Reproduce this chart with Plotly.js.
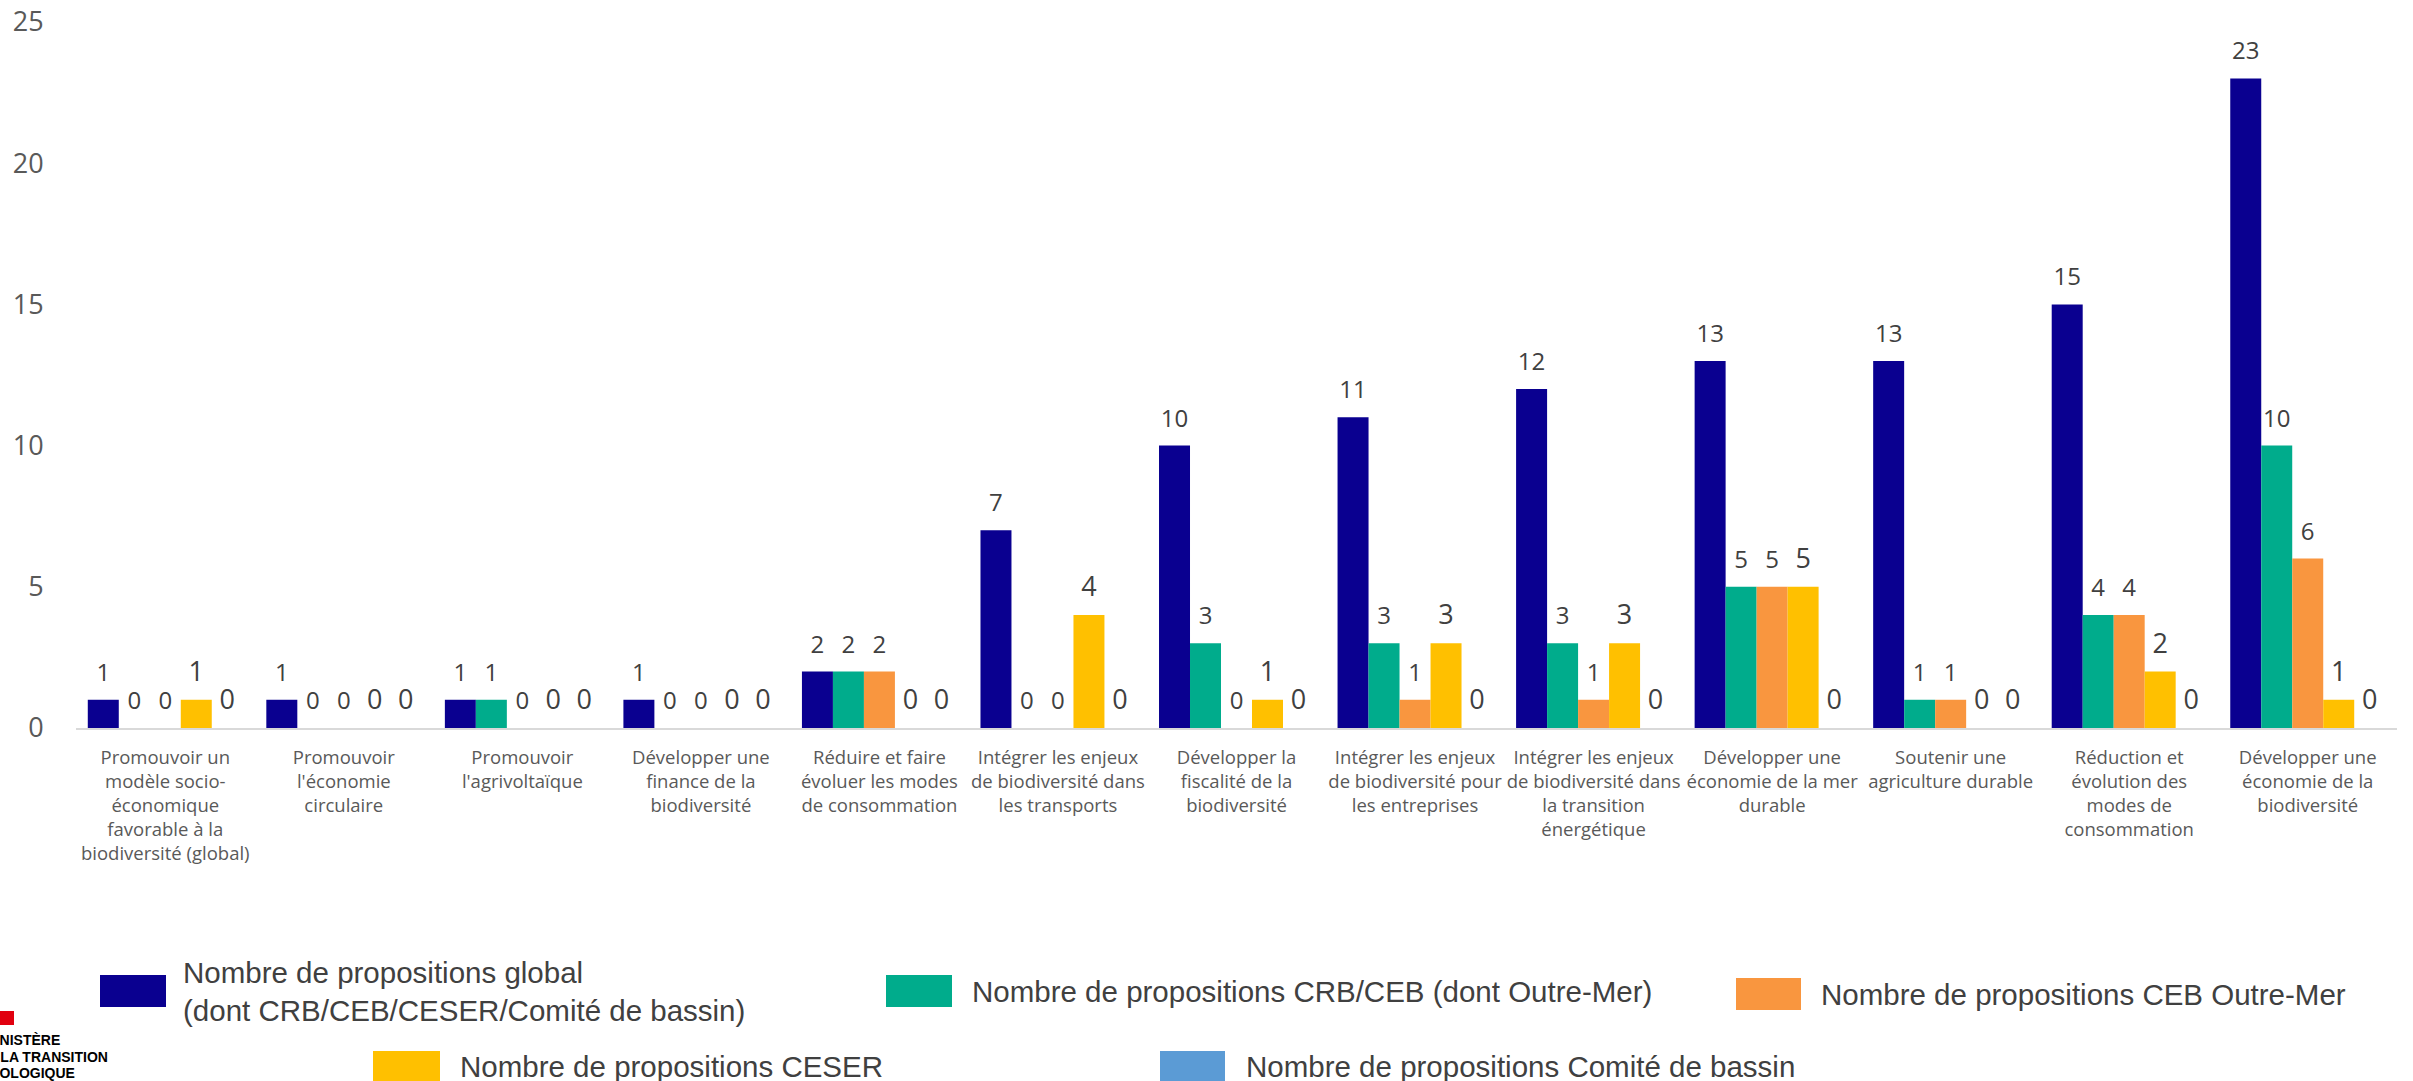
<!DOCTYPE html>
<html>
<head>
<meta charset="utf-8">
<script src="https://cdn.plot.ly/plotly-3.0.1.min.js"></script>
<style>
  html, body { margin: 0; padding: 0; background: #ffffff; }
  #chart { width: 2413px; height: 1081px; }
</style>
</head>
<body>
<div id="chart"></div>
<script>
// ---- DATA ----
const categories = [
  "Promouvoir un<br>modèle socio-<br>économique<br>favorable à la<br>biodiversité (global)",
  "Promouvoir<br>l'économie<br>circulaire",
  "Promouvoir<br>l'agrivoltaïque",
  "Développer une<br>finance de la<br>biodiversité",
  "Réduire et faire<br>évoluer les modes<br>de consommation",
  "Intégrer les enjeux<br>de biodiversité dans<br>les transports",
  "Développer la<br>fiscalité de la<br>biodiversité",
  "Intégrer les enjeux<br>de biodiversité pour<br>les entreprises",
  "Intégrer les enjeux<br>de biodiversité dans<br>la transition<br>énergétique",
  "Développer une<br>économie de la mer<br>durable",
  "Soutenir une<br>agriculture durable",
  "Réduction et<br>évolution des<br>modes de<br>consommation",
  "Développer une<br>économie de la<br>biodiversité"
];

const seriesNames = [
  "Nombre de propositions global<br>(dont CRB/CEB/CESER/Comité de bassin)",
  "Nombre de propositions CRB/CEB (dont Outre-Mer)",
  "Nombre de propositions CEB Outre-Mer",
  "Nombre de propositions CESER",
  "Nombre de propositions Comité de bassin"
];

const propGlobal      = [1, 1, 1, 1, 2, 7, 10, 11, 12, 13, 13, 15, 23];
const propCrbCeb      = [0, 0, 1, 0, 2, 0, 3, 3, 3, 5, 1, 4, 10];
const propCebOutreMer = [0, 0, 0, 0, 2, 0, 0, 1, 1, 5, 1, 4, 6];
const propCeser       = [1, 0, 0, 0, 0, 4, 1, 3, 3, 5, 0, 2, 1];
const propComite      = [0, 0, 0, 0, 0, 0, 0, 0, 0, 0, 0, 0, 0];

const yTickVals = [0, 5, 10, 15, 20, 25];

// ---- STYLE ----
const seriesValues = [propGlobal, propCrbCeb, propCebOutreMer, propCeser, propComite];
const colors = ["#0A0090", "#00AC8C", "#F9963F", "#FFC000", "#5B9BD5"];
const labelSizes = [24, 24, 24, 27, 27];

const W = 2413, H = 1081;
const M = { l: 76, r: 16, t: 22, b: 353 };
const PW = W - M.l - M.r, PH = H - M.t - M.b;
const px2x = p => (p - M.l) / PW;
const px2y = p => (H - M.b - p) / PH;

// the small second line (non-breaking space at 10px) lifts each label above its bar
const traces = seriesValues.map((vals, i) => ({
  type: "bar",
  name: seriesNames[i],
  x: categories,
  y: vals,
  marker: { color: colors[i], line: { width: 0 } },
  texttemplate: "<span style='font-size:" + labelSizes[i] + "px'>%{y}</span><br>\u00A0",
  textposition: "outside",
  constraintext: "none",
  cliponaxis: false,
  textfont: { family: "Open Sans, sans-serif", size: 10, color: "#404040" },
  showlegend: false,
  hoverinfo: "x+y+name"
}));

// custom legend (large swatches + labels, laid out as in the reference)
const legendBoxes = [
  { s: [100, 975, 166, 1007], tx: 182, ty: 991 },
  { s: [886, 975, 952, 1007], tx: 971, ty: 991 },
  { s: [1736, 978, 1801, 1010], tx: 1820, ty: 994 },
  { s: [373, 1051, 440, 1083], tx: 459, ty: 1066 },
  { s: [1160, 1051, 1225, 1083], tx: 1245, ty: 1066 }
];

const shapes = legendBoxes.map((b, i) => ({
  type: "rect", xref: "paper", yref: "paper",
  x0: px2x(b.s[0]), x1: px2x(b.s[2]), y0: px2y(b.s[3]), y1: px2y(b.s[1]),
  fillcolor: colors[i], line: { width: 0 }
}));
// logo red block (partially cropped at the left edge)
shapes.push({
  type: "rect", xref: "paper", yref: "paper",
  x0: px2x(-10), x1: px2x(14), y0: px2y(1025), y1: px2y(1011),
  fillcolor: "#E1000F", line: { width: 0 }
});

const annotations = legendBoxes.map((b, i) => ({
  xref: "paper", yref: "paper",
  x: px2x(b.tx), y: px2y(b.ty),
  xanchor: "left", yanchor: "middle", align: "left",
  text: seriesNames[i], showarrow: false, borderpad: 0,
  font: { family: "Liberation Sans, Arial, sans-serif", size: 29.5, color: "#404040" }
}));

// cropped ministry logo text
const logoLines = [
  { t: "MINISTÈRE", xr: 61, yc: 1040 },
  { t: "DE LA TRANSITION", xr: 109, yc: 1057 },
  { t: "ÉCOLOGIQUE", xr: 76, yc: 1073 }
];
logoLines.forEach(l => annotations.push({
  xref: "paper", yref: "paper", x: px2x(l.xr), y: px2y(l.yc),
  xanchor: "right", yanchor: "middle", text: "<b>" + l.t + "</b>",
  showarrow: false, borderpad: 0,
  font: { family: "Liberation Sans, Arial, sans-serif", size: 14, color: "#000000" }
}));

const layout = {
  width: W, height: H,
  margin: M,
  paper_bgcolor: "#ffffff", plot_bgcolor: "#ffffff",
  barmode: "group",
  bargap: 0.132,
  bargroupgap: 0,
  showlegend: false,
  xaxis: {
    type: "category",
    showgrid: false, zeroline: false,
    showline: true, linecolor: "#D9D9D9", linewidth: 2,
    ticks: "outside", ticklen: 12, tickcolor: "rgba(0,0,0,0)",
    tickangle: 0,
    tickfont: { family: "Open Sans, sans-serif", size: 18.5, color: "#595959" },
    automargin: false
  },
  yaxis: {
    range: [0, 25],
    tickvals: yTickVals,
    ticktext: yTickVals.map(String),
    showgrid: false, zeroline: false, showline: false,
    ticks: "outside", ticklen: 26, tickcolor: "rgba(0,0,0,0)",
    tickfont: { family: "Open Sans, sans-serif", size: 27, color: "#595959" },
    automargin: false
  },
  shapes: shapes,
  annotations: annotations
};

Plotly.newPlot("chart", traces, layout, { displayModeBar: false, staticPlot: true });
</script>
</body>
</html>
